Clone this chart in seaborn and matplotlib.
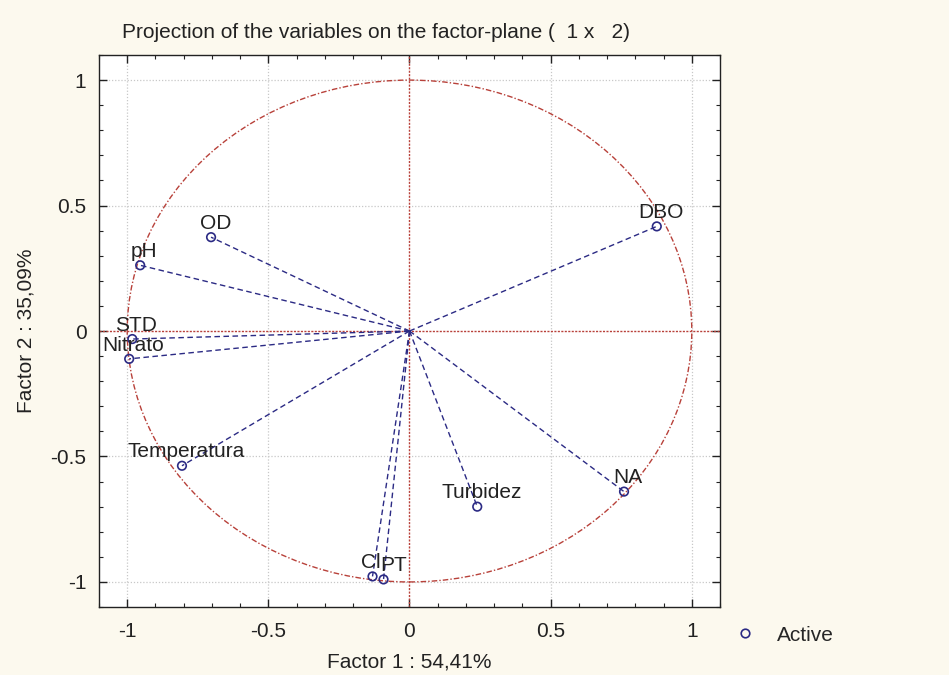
import numpy as np
import pandas as pd
import matplotlib
matplotlib.use("Agg")
import matplotlib.pyplot as plt
import matplotlib.ticker as mticker
from matplotlib.patches import Circle
import seaborn as sns

# loadings
variables = ["DBO", "OD", "pH", "STD", "Nitrato", "Temperatura", "Turbidez", "NA", "Cl", "PT"]
factor1 = [0.876, -0.703, -0.954, -0.982, -0.993, -0.806, 0.240, 0.760, -0.131, -0.092]
factor2 = [0.417, 0.374, 0.262, -0.032, -0.111, -0.537, -0.700, -0.640, -0.978, -0.990]
tick_vals = [-1, -0.5, 0, 0.5, 1]
title = "Projection of the variables on the factor-plane (  1 x   2)"
xlab = "Factor 1 : 54,41%"
ylab = "Factor 2 : 35,09%"

sns.set_style("ticks")
plt.rcParams["font.family"] = ["Liberation Sans", "DejaVu Sans"]

bg = "#fcf9ee"
navy = "#2b2a84"
red = "#b8413a"
ink = "#222222"
fs = 15

df = pd.DataFrame({"var": variables, "f1": factor1, "f2": factor2, "kind": "Active"})
vec = pd.concat([
    pd.DataFrame({"var": variables, "f1": 0.0, "f2": 0.0, "step": 0}),
    df[["var", "f1", "f2"]].assign(step=1),
]).sort_values(["var", "step"])

fig = plt.figure(figsize=(9.49, 6.75), dpi=100, facecolor=bg)
ax = fig.add_axes([0.1043, 0.1007, 0.6544, 0.8178])
ax.set_facecolor("white")

ax.set_xlim(-1.1, 1.1)
ax.set_ylim(-1.1, 1.1)

# grid and reference lines
for v in tick_vals:
    if v != 0:
        ax.axvline(v, color="#c8c8c8", lw=0.9, ls=(0, (1, 1.5)), zorder=0)
        ax.axhline(v, color="#c8c8c8", lw=0.9, ls=(0, (1, 1.5)), zorder=0)
ax.axvline(0, color=red, lw=1.0, ls=(0, (1.5, 1)), zorder=1)
ax.axhline(0, color=red, lw=1.0, ls=(0, (1.5, 1)), zorder=1)
ax.add_patch(Circle((0, 0), 1, fill=False, ec=red, lw=1.0, ls=(0, (4, 1.5, 1, 1.5)), zorder=1))

sns.lineplot(data=vec, x="f1", y="f2", units="var", estimator=None, sort=False,
             color=navy, lw=1.0, linestyle=(0, (4, 2.5)), ax=ax, zorder=2, legend=False)
sns.scatterplot(data=df, x="f1", y="f2", hue="kind", palette=[navy], s=38,
                facecolor="none", edgecolor=navy, linewidth=1.2, marker="o", ax=ax, zorder=3)

# scatterplot with hue fills markers, so restyle the collection
for coll in ax.collections:
    coll.set_facecolor("none")
    coll.set_edgecolor(navy)

for name, x, y in zip(variables, factor1, factor2):
    # Cl and PT sit almost on top of each other, split them left/right
    if name == "Cl":
        off, ha = (6, 6), "right"
    elif name == "PT":
        off, ha = (-2, 6), "left"
    else:
        off, ha = (3, 6), "center"
    ax.annotate(name, (x, y), xytext=off, textcoords="offset points",
                ha=ha, va="baseline", fontsize=fs, color=ink, zorder=4)

ax.set_xticks(tick_vals)
ax.set_yticks(tick_vals)
ax.xaxis.set_major_formatter(mticker.FormatStrFormatter("%g"))
ax.yaxis.set_major_formatter(mticker.FormatStrFormatter("%g"))
ax.xaxis.set_minor_locator(mticker.MultipleLocator(0.1))
ax.yaxis.set_minor_locator(mticker.MultipleLocator(0.1))
ax.tick_params(which="both", direction="in", top=True, right=True,
               labeltop=False, labelright=False, color=ink, labelcolor=ink)
ax.tick_params(which="major", length=6, width=1, labelsize=fs)
ax.tick_params(axis="x", which="major", pad=11)
ax.tick_params(axis="y", which="major", pad=9)
ax.tick_params(which="minor", length=3, width=0.8)
for s in ax.spines.values():
    s.set_color(ink)
    s.set_linewidth(1.0)

ax.set_xlabel(xlab, fontsize=fs, color=ink, labelpad=8)
ax.set_ylabel(ylab, fontsize=fs, color=ink, labelpad=10)
ax.yaxis.set_label_coords(-(99 - 36) / 621, 0.5)
fig.text(122 / 949, 1 - 32 / 675, title, fontsize=fs, color=ink, ha="left", va="center")

handles, labels = ax.get_legend_handles_labels()
leg = ax.legend(handles, labels, loc="center left", bbox_to_anchor=(1.024, -0.051),
                frameon=False, fontsize=fs, handletextpad=1.0, handlelength=1.0,
                borderaxespad=0, borderpad=0)
for h in leg.legend_handles:
    h.set_markerfacecolor("none")
    h.set_markeredgecolor(navy)

fig.savefig("out.png", dpi=100, facecolor=bg)
